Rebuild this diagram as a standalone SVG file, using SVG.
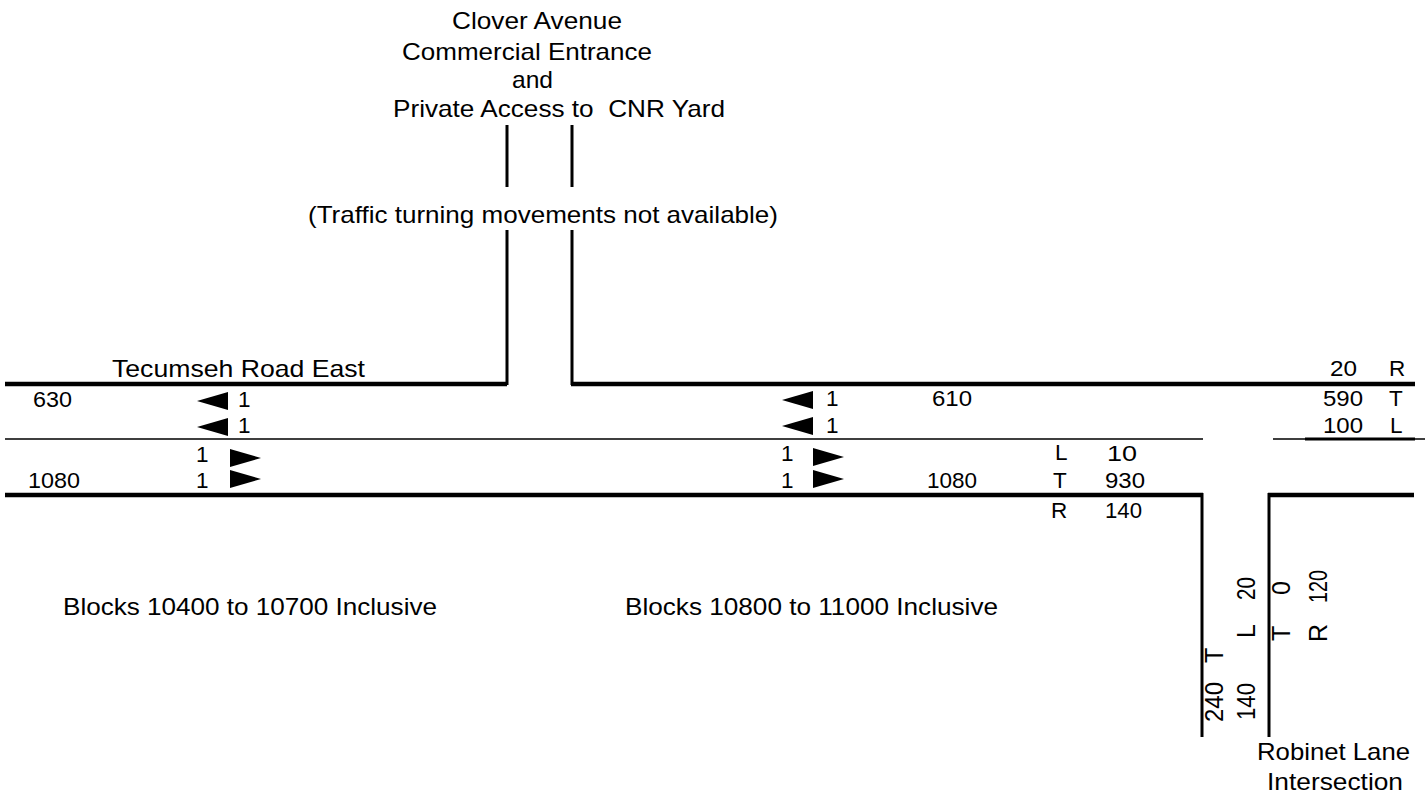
<svg xmlns="http://www.w3.org/2000/svg" width="1425" height="803" viewBox="0 0 1425 803">
<style>
.t{font-family:"Liberation Sans",Arial,sans-serif;fill:#000}
.big{font-size:24px}
.num{font-size:22.5px}
.rot{font-size:25px}
.pre{white-space:pre}
.road{stroke:#000;stroke-width:4.5;fill:none}
.side{stroke:#000;stroke-width:3;fill:none}
.thin{stroke:#000;stroke-width:1.5;fill:none}
.arr{fill:#000}
</style>
<defs>
<polygon id="aL" class="arr" points="0,0 31,-9 31,9"/>
<polygon id="aR" class="arr" points="0,-9 0,9 31,0"/>
</defs>
<rect width="1425" height="803" fill="#fff"/>
<g id="connectors">
<path class="road" d="M5,384 H507"/>
<path class="side" d="M507,385 V230 M507,187 V125"/>
<path class="side" d="M572,385 V230 M572,187 V125"/>
<path class="road" d="M571,384 H1415"/>
<path class="thin" d="M5,439 H1203 M1273,439 H1425"/>
<path stroke="#000" stroke-width="3" d="M1305,439 H1415"/>
<path class="road" d="M5,495 H1203"/>
<path class="side" d="M1202,493 V737"/>
<path class="side" d="M1269,737 V493"/>
<path class="road" d="M1268,495 H1414"/>
</g>
<g id="title">
<text class="t big" x="452" y="29" textLength="170" lengthAdjust="spacingAndGlyphs">Clover Avenue</text>
<text class="t big" x="402" y="60" textLength="250" lengthAdjust="spacingAndGlyphs">Commercial Entrance</text>
<text class="t big" x="512" y="88" textLength="41" lengthAdjust="spacingAndGlyphs">and</text>
<text class="t big pre" x="393" y="117" textLength="332" lengthAdjust="spacingAndGlyphs">Private Access to  CNR Yard</text>
<text class="t big" x="308" y="223" textLength="470" lengthAdjust="spacingAndGlyphs">(Traffic turning movements not available)</text>
</g>
<g id="tecumseh-label">
<text class="t big" x="112" y="377" textLength="253" lengthAdjust="spacingAndGlyphs">Tecumseh Road East</text>
</g>
<g id="west-lanes">
<text class="t num" x="33" y="407" textLength="39" lengthAdjust="spacingAndGlyphs">630</text>
<use href="#aL" x="197" y="401"/>
<text class="t num" x="238" y="407">1</text>
<use href="#aL" x="197" y="427"/>
<text class="t num" x="238" y="433">1</text>
<text class="t num" x="196" y="462">1</text>
<use href="#aR" x="230" y="458"/>
<text class="t num" x="196" y="488">1</text>
<use href="#aR" x="230" y="479"/>
<text class="t num" x="28" y="488" textLength="52" lengthAdjust="spacingAndGlyphs">1080</text>
</g>
<g id="mid-lanes">
<use href="#aL" x="782" y="400"/>
<text class="t num" x="826" y="406">1</text>
<use href="#aL" x="782" y="426"/>
<text class="t num" x="826" y="433">1</text>
<text class="t num" x="932" y="406" textLength="40" lengthAdjust="spacingAndGlyphs">610</text>
<text class="t num" x="781" y="461">1</text>
<use href="#aR" x="813" y="457"/>
<text class="t num" x="781" y="488">1</text>
<use href="#aR" x="813" y="479"/>
<text class="t num" x="927" y="488" textLength="50" lengthAdjust="spacingAndGlyphs">1080</text>
</g>
<g id="robinet-west-approach">
<text class="t num" x="1055" y="460">L</text>
<text class="t num" x="1107" y="461" textLength="30" lengthAdjust="spacingAndGlyphs">10</text>
<text class="t num" x="1053" y="488">T</text>
<text class="t num" x="1105" y="488" textLength="40" lengthAdjust="spacingAndGlyphs">930</text>
<text class="t num" x="1051" y="518">R</text>
<text class="t num" x="1105" y="518" textLength="37" lengthAdjust="spacingAndGlyphs">140</text>
</g>
<g id="robinet-east-approach">
<text class="t num" x="1330" y="376" textLength="27" lengthAdjust="spacingAndGlyphs">20</text>
<text class="t num" x="1389" y="376">R</text>
<text class="t num" x="1323" y="406" textLength="40" lengthAdjust="spacingAndGlyphs">590</text>
<text class="t num" x="1389" y="406">T</text>
<text class="t num" x="1323" y="433" textLength="40" lengthAdjust="spacingAndGlyphs">100</text>
<text class="t num" x="1390" y="433">L</text>
</g>
<g id="robinet-south-approach">
<text class="t rot" transform="translate(1223,722) rotate(-90)" textLength="40" lengthAdjust="spacingAndGlyphs">240</text>
<text class="t rot" transform="translate(1223,663) rotate(-90)">T</text>
<text class="t rot" transform="translate(1255,720) rotate(-90)" textLength="37" lengthAdjust="spacingAndGlyphs">140</text>
<text class="t rot" transform="translate(1255,638) rotate(-90)">L</text>
<text class="t rot" transform="translate(1255,600) rotate(-90)" textLength="23" lengthAdjust="spacingAndGlyphs">20</text>
<text class="t rot" transform="translate(1290,595) rotate(-90)">0</text>
<text class="t rot" transform="translate(1290,641) rotate(-90)">T</text>
<text class="t rot" transform="translate(1327,603) rotate(-90)" textLength="33" lengthAdjust="spacingAndGlyphs">120</text>
<text class="t rot" transform="translate(1327,642) rotate(-90)">R</text>
</g>
<g id="robinet-label">
<text class="t big" x="1257" y="760" textLength="153" lengthAdjust="spacingAndGlyphs">Robinet Lane</text>
<text class="t big" x="1267" y="790" textLength="136" lengthAdjust="spacingAndGlyphs">Intersection</text>
</g>
<g id="blocks-labels">
<text class="t big" x="63" y="615" textLength="374" lengthAdjust="spacingAndGlyphs">Blocks 10400 to 10700 Inclusive</text>
<text class="t big" x="625" y="615" textLength="373" lengthAdjust="spacingAndGlyphs">Blocks 10800 to 11000 Inclusive</text>
</g>
</svg>
